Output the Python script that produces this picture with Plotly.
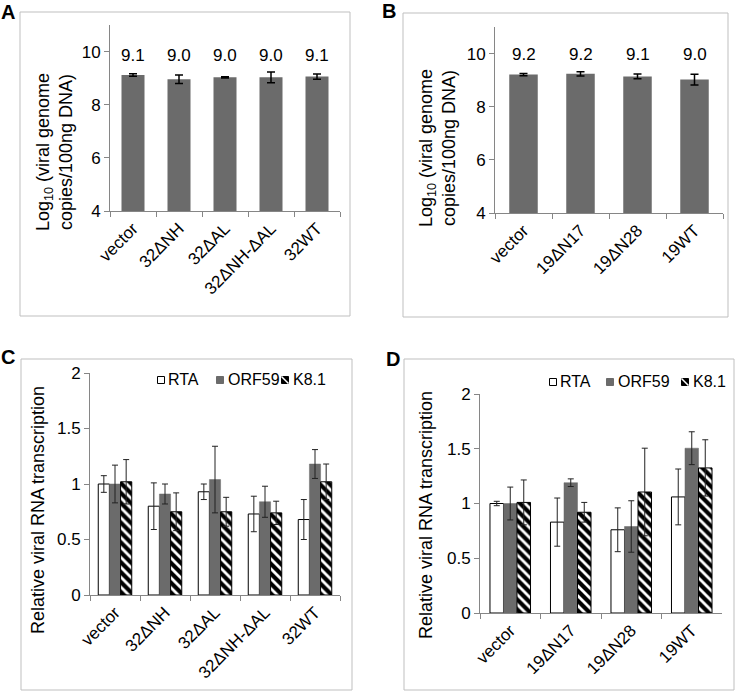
import plotly.graph_objects as go

# ---------------- data ----------------
cats_A = ["vector", "32ΔNH", "32ΔAL", "32ΔNH-ΔAL", "32WT"]
vals_A = [9.12, 8.96, 9.03, 9.03, 9.06]
err_A = [0.05, 0.16, 0.02, 0.2, 0.1]

cats_B = ["vector", "19ΔN17", "19ΔN28", "19WT"]
vals_B = [9.21, 9.24, 9.14, 9.02]
err_B = [0.04, 0.08, 0.09, 0.2]

cats_C = ["vector", "32ΔNH", "32ΔAL", "32ΔNH-ΔAL", "32WT"]
rta_C = [1.0, 0.80, 0.93, 0.73, 0.68]
rta_C_err = [0.075, 0.21, 0.07, 0.16, 0.18]
orf_C = [1.0, 0.91, 1.04, 0.84, 1.18]
orf_C_err = [0.17, 0.09, 0.3, 0.14, 0.13]
k8_C = [1.02, 0.75, 0.75, 0.74, 1.02]
k8_C_err = [0.2, 0.17, 0.13, 0.105, 0.16]

cats_D = ["vector", "19ΔN17", "19ΔN28", "19WT"]
rta_D = [1.0, 0.83, 0.76, 1.06]
rta_D_err = [0.02, 0.22, 0.2, 0.255]
orf_D = [1.0, 1.19, 0.79, 1.505]
orf_D_err = [0.15, 0.035, 0.235, 0.15]
k8_D = [1.01, 0.92, 1.105, 1.325]
k8_D_err = [0.205, 0.09, 0.4, 0.257]

series_names = ["RTA", "ORF59", "K8.1"]

# ---------------- layout helpers ----------------
W, H = 736, 692
def px(x):
    return x / W
def py(y):
    return 1 - y / H

FONT = 'Arial, "Liberation Sans", sans-serif'
AXIS_GRAY = "#868686"
BAR_GRAY = "#6b6b6b"

fig = go.Figure()

def single_bars(cats, vals, errs, xa, ya):
    fig.add_trace(go.Bar(
        x=cats, y=vals, width=0.5, xaxis=xa, yaxis=ya,
        marker=dict(color=BAR_GRAY, line=dict(width=0)),
        error_y=dict(type="data", array=errs, visible=True, color="#000000",
                     thickness=1.5, width=4),
        showlegend=False,
    ))

single_bars(cats_A, vals_A, err_A, "x", "y")
single_bars(cats_B, vals_B, err_B, "x2", "y2")

STYLES = [
    dict(color="white", line=dict(color="#000000", width=1)),
    dict(color=BAR_GRAY, line=dict(color=BAR_GRAY, width=0.5)),
    dict(color="white", line=dict(color="#000000", width=1),
         pattern=dict(shape="\\", fgcolor="#000000", bgcolor="white",
                      size=7, solidity=0.6, fgopacity=1)),
]

def grouped(cats, data, xa, ya):
    for name, (vals, errs), st in zip(series_names, data, STYLES):
        fig.add_trace(go.Bar(
            x=cats, y=vals, name=name, xaxis=xa, yaxis=ya,
            marker=st, showlegend=False,
            error_y=dict(type="data", array=errs, visible=True,
                         color="#222222", thickness=1, width=3),
        ))

grouped(cats_C, [(rta_C, rta_C_err), (orf_C, orf_C_err), (k8_C, k8_C_err)], "x3", "y3")
grouped(cats_D, [(rta_D, rta_D_err), (orf_D, orf_D_err), (k8_D, k8_D_err)], "x4", "y4")

# ---------------- axes ----------------
def xaxis_style(domain, anchor):
    return dict(domain=domain, anchor=anchor, type="category", automargin=False,
                showline=True, linecolor=AXIS_GRAY, linewidth=1,
                ticks="outside", tickson="boundaries", ticklen=5,
                tickcolor=AXIS_GRAY, tickangle=-45, showgrid=False,
                tickfont=dict(family=FONT, size=17, color="#000000"))

def yaxis_style(domain, anchor, rng, tickvals, ticktext):
    return dict(domain=domain, anchor=anchor, range=rng, automargin=False,
                showline=True, linecolor=AXIS_GRAY, linewidth=1,
                ticks="outside", ticklen=5, tickcolor=AXIS_GRAY,
                tickvals=tickvals, ticktext=ticktext, showgrid=False,
                zeroline=False,
                tickfont=dict(family=FONT, size=17, color="#000000"))

fig.update_layout(
    xaxis=xaxis_style([px(110), px(340)], "y"),
    yaxis=yaxis_style([py(211), py(25)], "x", [4, 11], [4, 6, 8, 10], ["4", "6", "8", "10"]),
    xaxis2=xaxis_style([px(495), px(723)], "y2"),
    yaxis2=yaxis_style([py(213), py(27)], "x2", [4, 11], [4, 6, 8, 10], ["4", "6", "8", "10"]),
    xaxis3=xaxis_style([px(90), px(340)], "y3"),
    yaxis3=yaxis_style([py(595), py(373)], "x3", [0, 2], [0, 0.5, 1, 1.5, 2], ["0", "0.5", "1", "1.5", "2"]),
    xaxis4=xaxis_style([px(480), px(722)], "y4"),
    yaxis4=yaxis_style([py(613), py(394)], "x4", [0, 2], [0, 0.5, 1, 1.5, 2], ["0", "0.5", "1", "1.5", "2"]),
)

# ---------------- annotations ----------------
ann = []
for c, v in zip(cats_A, vals_A):
    ann.append(dict(x=c, y=9.87, xref="x", yref="y", text=f"{v:.1f}", showarrow=False,
                    xanchor="center", yanchor="middle",
                    font=dict(family=FONT, size=17, color="#000000")))
for c, v in zip(cats_B, vals_B):
    ann.append(dict(x=c, y=9.95, xref="x2", yref="y2", text=f"{v:.1f}", showarrow=False,
                    xanchor="center", yanchor="middle",
                    font=dict(family=FONT, size=17, color="#000000")))

def vtitle(x, y, text):
    ann.append(dict(x=px(x), y=py(y), xref="paper", yref="paper", textangle=-90,
                    xanchor="center", yanchor="middle", text=text, showarrow=False,
                    font=dict(family=FONT, size=18, color="#000000")))

vtitle(54, 152, "Log<sub>10</sub> (viral genome<br>copies/100ng DNA)")
vtitle(438, 148, "Log<sub>10</sub> (viral genome<br>copies/100ng DNA)")
vtitle(38, 510, "Relative viral RNA transcription")
vtitle(426, 515, "Relative viral RNA transcription")

for letter, x, y in [("A", 8, 12), ("B", 389, 11), ("C", 8, 357), ("D", 393, 359)]:
    ann.append(dict(x=px(x), y=py(y), xref="paper", yref="paper", text=f"<b>{letter}</b>",
                    xanchor="center", yanchor="middle", showarrow=False,
                    font=dict(family=FONT, size=20, color="#000000")))

shapes = []
for x0, y0, x1, y1 in [(20, 12, 350, 316), (403, 13, 728, 317), (21, 359, 352, 690), (404, 359, 734, 690)]:
    shapes.append(dict(type="rect", xref="paper", yref="paper", x0=px(x0), x1=px(x1),
                       y0=py(y1), y1=py(y0), line=dict(color="#bfbfbf", width=1),
                       fillcolor="rgba(0,0,0,0)", layer="below"))

# ---------------- custom compact legends ----------------
def legend(icon_x, text_x, yc):
    s = 3.5
    for i, name in enumerate(series_names):
        cx = icon_x[i]
        x0, x1 = px(cx - s), px(cx + s)
        y0, y1 = py(yc + 1 + s), py(yc + 1 - s)
        if i == 0:
            shapes.append(dict(type="rect", xref="paper", yref="paper", x0=x0, x1=x1, y0=y0, y1=y1,
                               line=dict(color="#000000", width=1), fillcolor="white"))
        elif i == 1:
            shapes.append(dict(type="rect", xref="paper", yref="paper", x0=x0, x1=x1, y0=y0, y1=y1,
                               line=dict(color=BAR_GRAY, width=1), fillcolor=BAR_GRAY))
        else:
            shapes.append(dict(type="rect", xref="paper", yref="paper", x0=x0, x1=x1, y0=y0, y1=y1,
                               line=dict(color="#000000", width=1), fillcolor="#000000"))
            shapes.append(dict(type="line", xref="paper", yref="paper", x0=x0, x1=x1, y0=y1, y1=y0,
                               line=dict(color="white", width=1.5)))
        ann.append(dict(x=px(text_x[i]), y=py(yc), xref="paper", yref="paper", text=name,
                        xanchor="left", yanchor="middle", showarrow=False,
                        font=dict(family=FONT, size=16, color="#000000")))

legend([161, 220, 285], [166, 226, 291], 379)
legend([553, 610, 685], [558, 616, 691], 381)

fig.update_layout(
    width=W, height=H, margin=dict(l=0, r=0, t=0, b=0, autoexpand=False),
    paper_bgcolor="white", plot_bgcolor="white",
    barmode="group", bargap=0.33, bargroupgap=0,
    annotations=ann, shapes=shapes, showlegend=False,
    font=dict(family=FONT),
)

fig.write_html("out.html", config={"displayModeBar": False},
               post_script="document.body.style.margin='0';document.body.style.padding='0';")
